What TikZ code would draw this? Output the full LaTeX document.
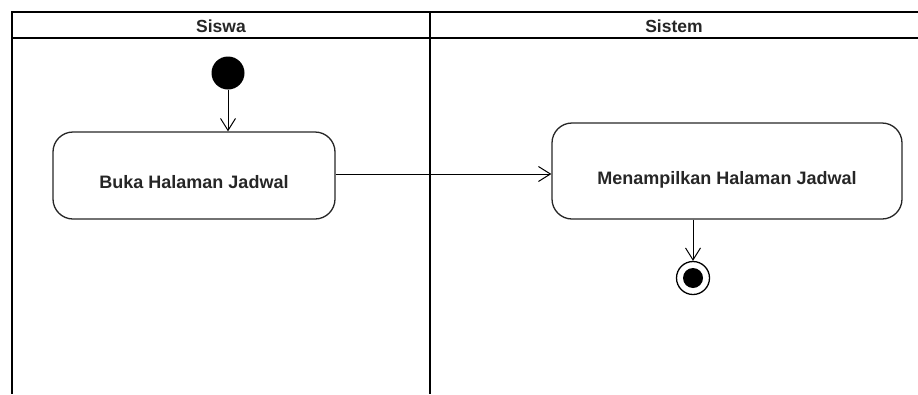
\documentclass[tikz,border=0pt]{standalone}
\usepackage{fontspec}
\setmainfont{Liberation Sans}
\usetikzlibrary{arrows.meta}

\begin{document}
\begin{tikzpicture}[x=1pt, y=-1pt]
        \tikzstyle{lane_line}    = [line width=2.8pt, black]
        \tikzstyle{lane_title}   = [font=\fontsize{17.5}{20}\selectfont\bfseries, text=black!85]
        \tikzstyle{act_node}     = [shape = rectangle, draw = black!85, line width=1.3pt, rounded corners=20pt,
                                    text height=26pt, text depth=0pt,
                                    font=\fontsize{18}{21}\selectfont\bfseries, text=black!85]
        \tikzstyle{start_node}   = [shape = circle, fill = black, minimum size=33pt, inner sep=0pt]
        \tikzstyle{final_ring}   = [shape = circle, draw = black, line width=1.3pt, fill = white, minimum size=33pt, inner sep=0pt]
        \tikzstyle{final_dot}    = [shape = circle, fill = black, minimum size=20pt, inner sep=0pt]
        \tikzstyle{flow}         = [-{Straight Barb[length=12pt, width=15pt, line width=1pt]}, line width=1pt]

        \useasboundingbox (0, 0) rectangle (918, 394);

        % swimlanes
        \draw[lane_line] (918, 12) -- (12, 12) -- (12, 394);
        \draw[lane_line] (12, 38) -- (918, 38);
        \draw[lane_line] (430, 12) -- (430, 394);

        \node[lane_title] at (221, 26) (siswa) {Siswa};
        \node[lane_title] at (674, 26) (sistem) {Sistem};

        \node[start_node] at (228, 73) (start) {};

        \node[act_node, minimum width=282pt, minimum height=87pt] at (194, 175.5) (buka) {Buka Halaman Jadwal};
        \node[act_node, minimum width=350pt, minimum height=96pt] at (727, 171) (tampil) {Menampilkan Halaman Jadwal};

        \node[final_ring] at (693, 278) (final) {};
        \node[final_dot] at (final) (final_in) {};

        \draw[flow] (start) -- (start |- buka.north);
        \draw[flow] (buka.east |- 0, 174) -- (tampil.west |- 0, 174);
        \draw[flow] (final |- tampil.south) -- (final.north);
      \end{tikzpicture}
\end{document}
